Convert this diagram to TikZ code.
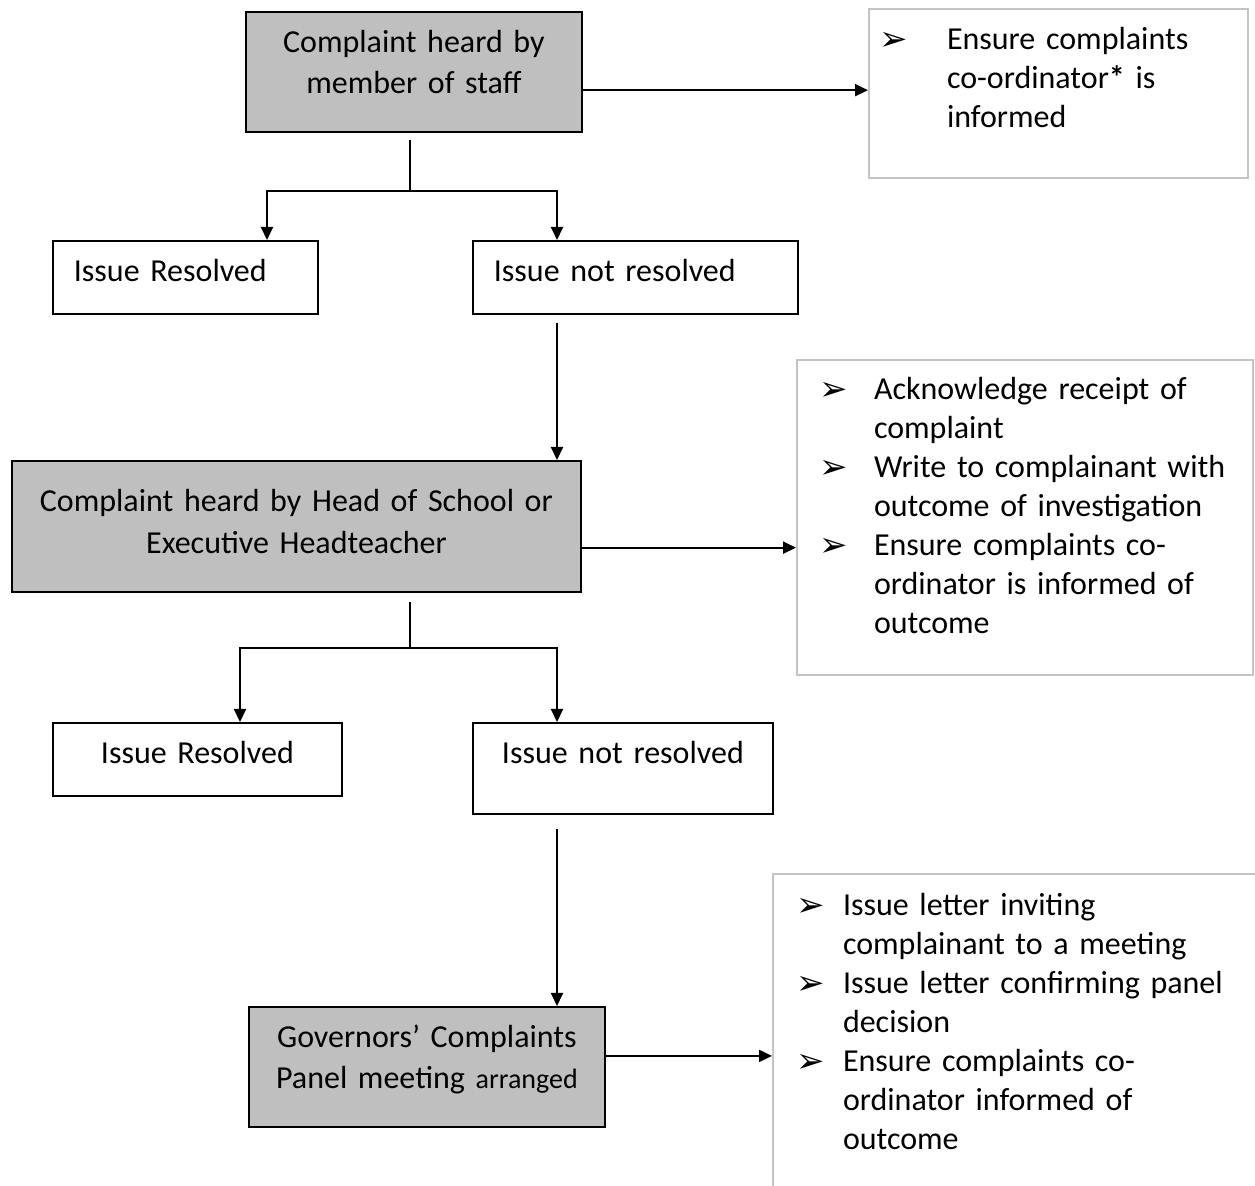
\documentclass[tikz,border=0pt]{standalone}
\usepackage{fontspec}
\setmainfont{Carlito}
\newfontfamily\bulletfont{DejaVu Sans}
\usepackage{tikz}
\usetikzlibrary{arrows.meta, calc}
\definecolor{boxgray}{RGB}{191,191,191}
\definecolor{notegray}{RGB}{196,196,196}
\newcommand{\bul}{\raisebox{-0.5pt}{\bulletfont\fontsize{17}{17}\selectfont ➢}}
\tikzset{
  stepbox/.style={
    draw=black, line width=0.9pt, inner xsep=0pt, inner ysep=0pt,
    align=center, anchor=north west, font=\fontsize{16}{20.5}\selectfont
  },
  staffbox/.style={stepbox, fill=boxgray},
  issuebox/.style={stepbox, fill=white},
  issueleft/.style={issuebox, align=left, inner xsep=10.5pt},
  notebox/.style={
    draw=notegray, line width=1pt, inner ysep=0pt, align=left,
    anchor=north west, fill=white, font=\fontsize{16}{19.5}\selectfont
  },
  flowline/.style={line width=1pt},
  flowarrow/.style={line width=1pt, -{Triangle[length=6.5pt, width=6pt]}},
}

\begin{document}
\begin{tikzpicture}[x=0.5pt, y=-0.5pt]
  \clip (0,0) rectangle (1255,1186);
  \fill[white] (0,0) rectangle (1255,1186);

  % Stage 1: member of staff
  \node[staffbox, text width=168pt, text height=20.5pt, text depth=39.5pt]
    (staff) at (245,11) {Complaint heard by\\member of staff};
  \node[notebox, inner xsep=5pt, text width=179.5pt, text height=20.5pt,
    text depth=64pt] (infoA) at (868,8)
    {\begin{tabular}[t]{@{}p{34pt}@{}l@{}}
      \bul & Ensure complaints\\
           & co-ordinator\textbf{*} is\\
           & informed
    \end{tabular}};
  \node[issueleft, text width=111.5pt, text height=20.5pt, text depth=16pt]
    (resA) at (52,240) {Issue Resolved};
  \node[issueleft, text width=141.5pt, text height=20.5pt, text depth=16pt]
    (nresA) at (472,240) {Issue not resolved};

  % Stage 2: head of school
  \node[staffbox, text width=284.5pt, text height=25.5pt, text depth=40pt,
    font=\fontsize{16}{21}\selectfont]
    (head) at (11,460) {Complaint heard by Head of School or\\Executive Headteacher};
  \node[notebox, inner xsep=11pt, text width=206pt, text height=20pt,
    text depth=137.5pt] (infoB) at (796,359)
    {\begin{tabular}[t]{@{}p{27.5pt}@{}l@{}}
      \bul & Acknowledge receipt of\\
           & complaint\\
      \bul & Write to complainant with\\
           & outcome of investigation\\
      \bul & Ensure complaints co-\\
           & ordinator is informed of\\
           & outcome
    \end{tabular}};
  \node[issuebox, text width=144.5pt, text height=20.5pt, text depth=16pt]
    (resB) at (52,722) {Issue Resolved};
  \node[issuebox, text width=150pt, text height=20.5pt, text depth=25pt]
    (nresB) at (472,722) {Issue not resolved};

  % Stage 3: governors panel
  \node[staffbox, text width=178pt, text height=20.5pt, text depth=39.5pt]
    (panel) at (248,1006)
    {Governors’ Complaints\\Panel meeting {\fontsize{14}{20.5}\selectfont arranged}};
  \node[notebox, inner xsep=11.5pt, text width=223.5pt, text height=21pt,
    text depth=142.5pt] (infoC) at (772,873)
    {\begin{tabular}[t]{@{}p{23.5pt}@{}l@{}}
      \bul & Issue letter inviting\\
           & complainant to a meeting\\
      \bul & Issue letter confirming panel\\
           & decision\\
      \bul & Ensure complaints co-\\
           & ordinator informed of\\
           & outcome
    \end{tabular}};

  % Forks
  \coordinate (forkA) at (410,191);
  \coordinate (forkAl) at (267,191);
  \coordinate (forkAr) at (557,191);
  \coordinate (forkB) at (410,648);
  \coordinate (forkBl) at (240,648);
  \coordinate (forkBr) at (557,648);
  \coordinate (outA) at ($(staff.north east)!0.65!(staff.south east)$);
  \coordinate (outB) at ($(head.north east)!0.66!(head.south east)$);
  \coordinate (outC) at ($(panel.north east)!0.41!(panel.south east)$);

  % Connectors
  \draw[flowarrow] (outA) -- (outA -| infoA.west);
  \draw[flowline] ($(forkA |- staff.south)+(0,7)$) -- (forkA);
  \draw[flowarrow] (forkA) -- (forkAl) -- (forkAl |- resA.north);
  \draw[flowarrow] (forkA) -- (forkAr) -- (forkAr |- nresA.north);
  \draw[flowarrow] ($(forkAr |- nresA.south)+(0,8)$) -- (forkAr |- head.north);

  \draw[flowarrow] (outB) -- (outB -| infoB.west);
  \draw[flowline] ($(forkB |- head.south)+(0,9)$) -- (forkB);
  \draw[flowarrow] (forkB) -- (forkBl) -- (forkBl |- resB.north);
  \draw[flowarrow] (forkB) -- (forkBr) -- (forkBr |- nresB.north);
  \draw[flowarrow] ($(forkBr |- nresB.south)+(0,14)$) -- (forkBr |- panel.north);

  \draw[flowarrow] (outC) -- (outC -| infoC.west);
\end{tikzpicture}
\end{document}
